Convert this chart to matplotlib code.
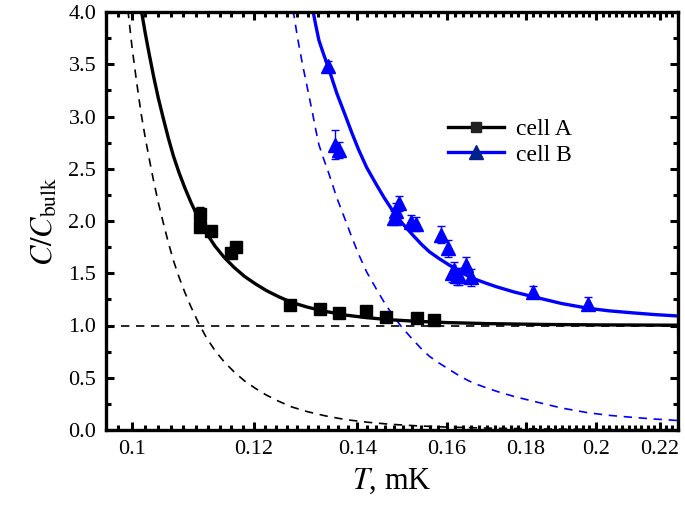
import matplotlib
matplotlib.use("Agg")
import matplotlib.pyplot as plt
from matplotlib.lines import Line2D
from matplotlib.ticker import FixedLocator, MultipleLocator, NullFormatter, FixedFormatter
import numpy as np

# ---------------- data ----------------
cellA_T = [0.1107, 0.1107, 0.1126, 0.1160, 0.1168, 0.1267, 0.1324, 0.1363, 0.1418, 0.1461, 0.1530, 0.1570]
cellA_C = [2.07, 1.94, 1.90, 1.69, 1.75, 1.20, 1.16, 1.12, 1.14, 1.08, 1.07, 1.05]
cellA_err = [0.06, 0.04, 0.03, 0.04, 0.04, 0.02, 0.02, 0.02, 0.02, 0.02, 0.02, 0.02]

cellB_T = [0.1340, 0.1354, 0.1362, 0.1480, 0.1483, 0.1490, 0.1516, 0.1528, 0.1586, 0.1604,
           0.1612, 0.1618, 0.1625, 0.1630, 0.1647, 0.1659, 0.1820, 0.1976]
cellB_C = [3.48, 2.73, 2.68, 2.03, 2.10, 2.17, 1.99, 1.97, 1.87, 1.74,
           1.50, 1.53, 1.47, 1.47, 1.58, 1.46, 1.32, 1.21]
cellB_err = [0.05, 0.14, 0.08, 0.07, 0.07, 0.07, 0.07, 0.07, 0.08, 0.08,
             0.08, 0.08, 0.08, 0.08, 0.08, 0.08, 0.06, 0.06]

fitA_T = [0.1014, 0.1020, 0.1026, 0.1033, 0.1040, 0.1048, 0.1056, 0.1064, 0.1073, 0.1082,
          0.1092, 0.1104, 0.1117, 0.1132, 0.1148, 0.1165, 0.1183, 0.1202, 0.1222, 0.1245,
          0.1270, 0.1300, 0.1335, 0.1375, 0.1420, 0.1470, 0.1530, 0.1600, 0.1700, 0.1850,
          0.2000, 0.2260]
fitA_C = [4.02, 3.80, 3.60, 3.38, 3.18, 2.98, 2.79, 2.62, 2.46, 2.32,
          2.18, 2.03, 1.89, 1.76, 1.65, 1.555, 1.47, 1.40, 1.335, 1.275,
          1.22, 1.175, 1.135, 1.10, 1.075, 1.055, 1.04, 1.028, 1.018, 1.010,
          1.006, 1.003]

dashA_T = [0.0994, 0.1000, 0.1007, 0.1014, 0.1020, 0.1026, 0.1033, 0.1040, 0.1048, 0.1056,
           0.1064, 0.1073, 0.1082, 0.1092, 0.1104, 0.1117, 0.1132, 0.1148, 0.1165, 0.1183,
           0.1202, 0.1222, 0.1245, 0.1270, 0.1300, 0.1335, 0.1375, 0.1420, 0.1470, 0.1530,
           0.1600, 0.1700, 0.1850, 0.2000, 0.2260]
dashA_C = [4.02, 3.67, 3.33, 3.02, 2.80, 2.60, 2.38, 2.18, 1.98, 1.79,
           1.62, 1.46, 1.32, 1.18, 1.03, 0.89, 0.76, 0.65, 0.555, 0.47,
           0.40, 0.335, 0.275, 0.22, 0.175, 0.135, 0.10, 0.075, 0.055, 0.04,
           0.028, 0.018, 0.010, 0.006, 0.003]

fitB_T = [0.1310, 0.1316, 0.1322, 0.1331, 0.1340, 0.1349, 0.1358, 0.1367, 0.1376, 0.1389,
          0.1403, 0.1420, 0.1439, 0.1457, 0.1475, 0.1497, 0.1520, 0.1540, 0.1559, 0.1582,
          0.1606, 0.1634, 0.1663, 0.1693, 0.1723, 0.1770, 0.1820, 0.1900, 0.1976, 0.2040,
          0.2104, 0.2180, 0.2260]
fitB_C = [4.02, 3.87, 3.73, 3.60, 3.48, 3.35, 3.22, 3.11, 3.00, 2.84,
          2.68, 2.51, 2.36, 2.225, 2.105, 1.98, 1.87, 1.78, 1.706, 1.64,
          1.579, 1.51, 1.452, 1.41, 1.371, 1.32, 1.276, 1.21, 1.165, 1.14,
          1.123, 1.105, 1.091]

dashB_T = [0.1272, 0.1281, 0.1290, 0.1300, 0.1310, 0.1316, 0.1322, 0.1331, 0.1340, 0.1349,
           0.1358, 0.1367, 0.1376, 0.1389, 0.1403, 0.1420, 0.1439, 0.1457, 0.1475, 0.1497,
           0.1520, 0.1540, 0.1559, 0.1582, 0.1606, 0.1634, 0.1663, 0.1693, 0.1723, 0.1770,
           0.1820, 0.1900, 0.1976, 0.2040, 0.2104, 0.2180, 0.2260]
dashB_C = [4.02, 3.74, 3.50, 3.26, 3.02, 2.87, 2.73, 2.60, 2.48, 2.35,
           2.22, 2.11, 2.00, 1.84, 1.68, 1.51, 1.36, 1.225, 1.105, 0.98,
           0.87, 0.78, 0.706, 0.64, 0.579, 0.51, 0.452, 0.41, 0.371, 0.32,
           0.276, 0.21, 0.165, 0.14, 0.123, 0.105, 0.091]

bulk_level = [1.0, 1.0]
x_ticks = [0.1, 0.12, 0.14, 0.16, 0.18, 0.2, 0.22]
x_ticklabels = ["0.1", "0.12", "0.14", "0.16", "0.18", "0.2", "0.22"]
y_ticks = [0.0, 0.5, 1.0, 1.5, 2.0, 2.5, 3.0, 3.5, 4.0]
y_ticklabels = ["0.0", "0.5", "1.0", "1.5", "2.0", "2.5", "3.0", "3.5", "4.0"]
xlim = (0.0962, 0.226)
ylim = (0.0, 4.0)

# ---------------- style ----------------
plt.rcParams["font.family"] = ["Liberation Serif", "DejaVu Serif"]
plt.rcParams["mathtext.fontset"] = "stix"

fig = plt.figure(figsize=(6.85, 5.15), dpi=100)
ax = fig.add_axes([106 / 685, 1 - 430 / 515, (678 - 106) / 685, (430 - 12) / 515])

blue = "#0000FF"

ax.plot(xlim, bulk_level, color="black", lw=1.2, ls=(0, (5, 4)))
ax.plot(dashA_T, dashA_C, color="black", lw=1.2, ls=(0, (5, 4)))
ax.plot(dashB_T, dashB_C, color=blue, lw=1.2, ls=(0, (5, 4)))
ax.plot(fitA_T, fitA_C, color="black", lw=2.4, solid_joinstyle="round")
ax.plot(fitB_T, fitB_C, color=blue, lw=2.4, solid_joinstyle="round")

ax.errorbar(cellA_T, cellA_C, yerr=cellA_err, fmt="s", color="black", ms=8.5,
            capsize=3, elinewidth=1, capthick=1, zorder=5)
ax.errorbar(cellB_T, cellB_C, yerr=cellB_err, fmt="^", color=blue, ms=10,
            capsize=3, elinewidth=1, capthick=1, zorder=5)

ax.set_xscale("log")
ax.set_xlim(*xlim)
ax.set_ylim(*ylim)

ax.xaxis.set_major_locator(FixedLocator(x_ticks))
ax.xaxis.set_major_formatter(FixedFormatter(x_ticklabels))
ax.xaxis.set_minor_locator(FixedLocator(np.arange(0.096, 0.2261, 0.002)))
ax.xaxis.set_minor_formatter(NullFormatter())
ax.yaxis.set_major_locator(FixedLocator(y_ticks))
ax.yaxis.set_major_formatter(FixedFormatter(y_ticklabels))
ax.yaxis.set_minor_locator(MultipleLocator(0.25))

for s in ax.spines.values():
    s.set_linewidth(2.4)
ax.tick_params(which="both", direction="in", top=True, right=True)
ax.tick_params(which="major", length=6, width=2.2, labelsize=16, pad=7)
ax.tick_params(which="minor", length=3.5, width=2.2)

ax.set_xlabel(r"$T$, mK", fontsize=22, labelpad=6)
ax.set_ylabel(r"$C/C_{\rm bulk}$", fontsize=22, labelpad=6)

handles = [
    Line2D([], [], color="black", lw=2.4, marker="s", ms=7, mfc="#222222", mec="#222222"),
    Line2D([], [], color=blue, lw=2.4, marker="^", ms=10, mfc="#00208A", mec="#00208A"),
]
ax.legend(handles, ["cell A", "cell B"], loc="upper left", bbox_to_anchor=(0.56, 0.795),
          frameon=False, fontsize=17, handlelength=2.4, handletextpad=0.5, labelspacing=0.15)

fig.savefig("out.png", dpi=100)
